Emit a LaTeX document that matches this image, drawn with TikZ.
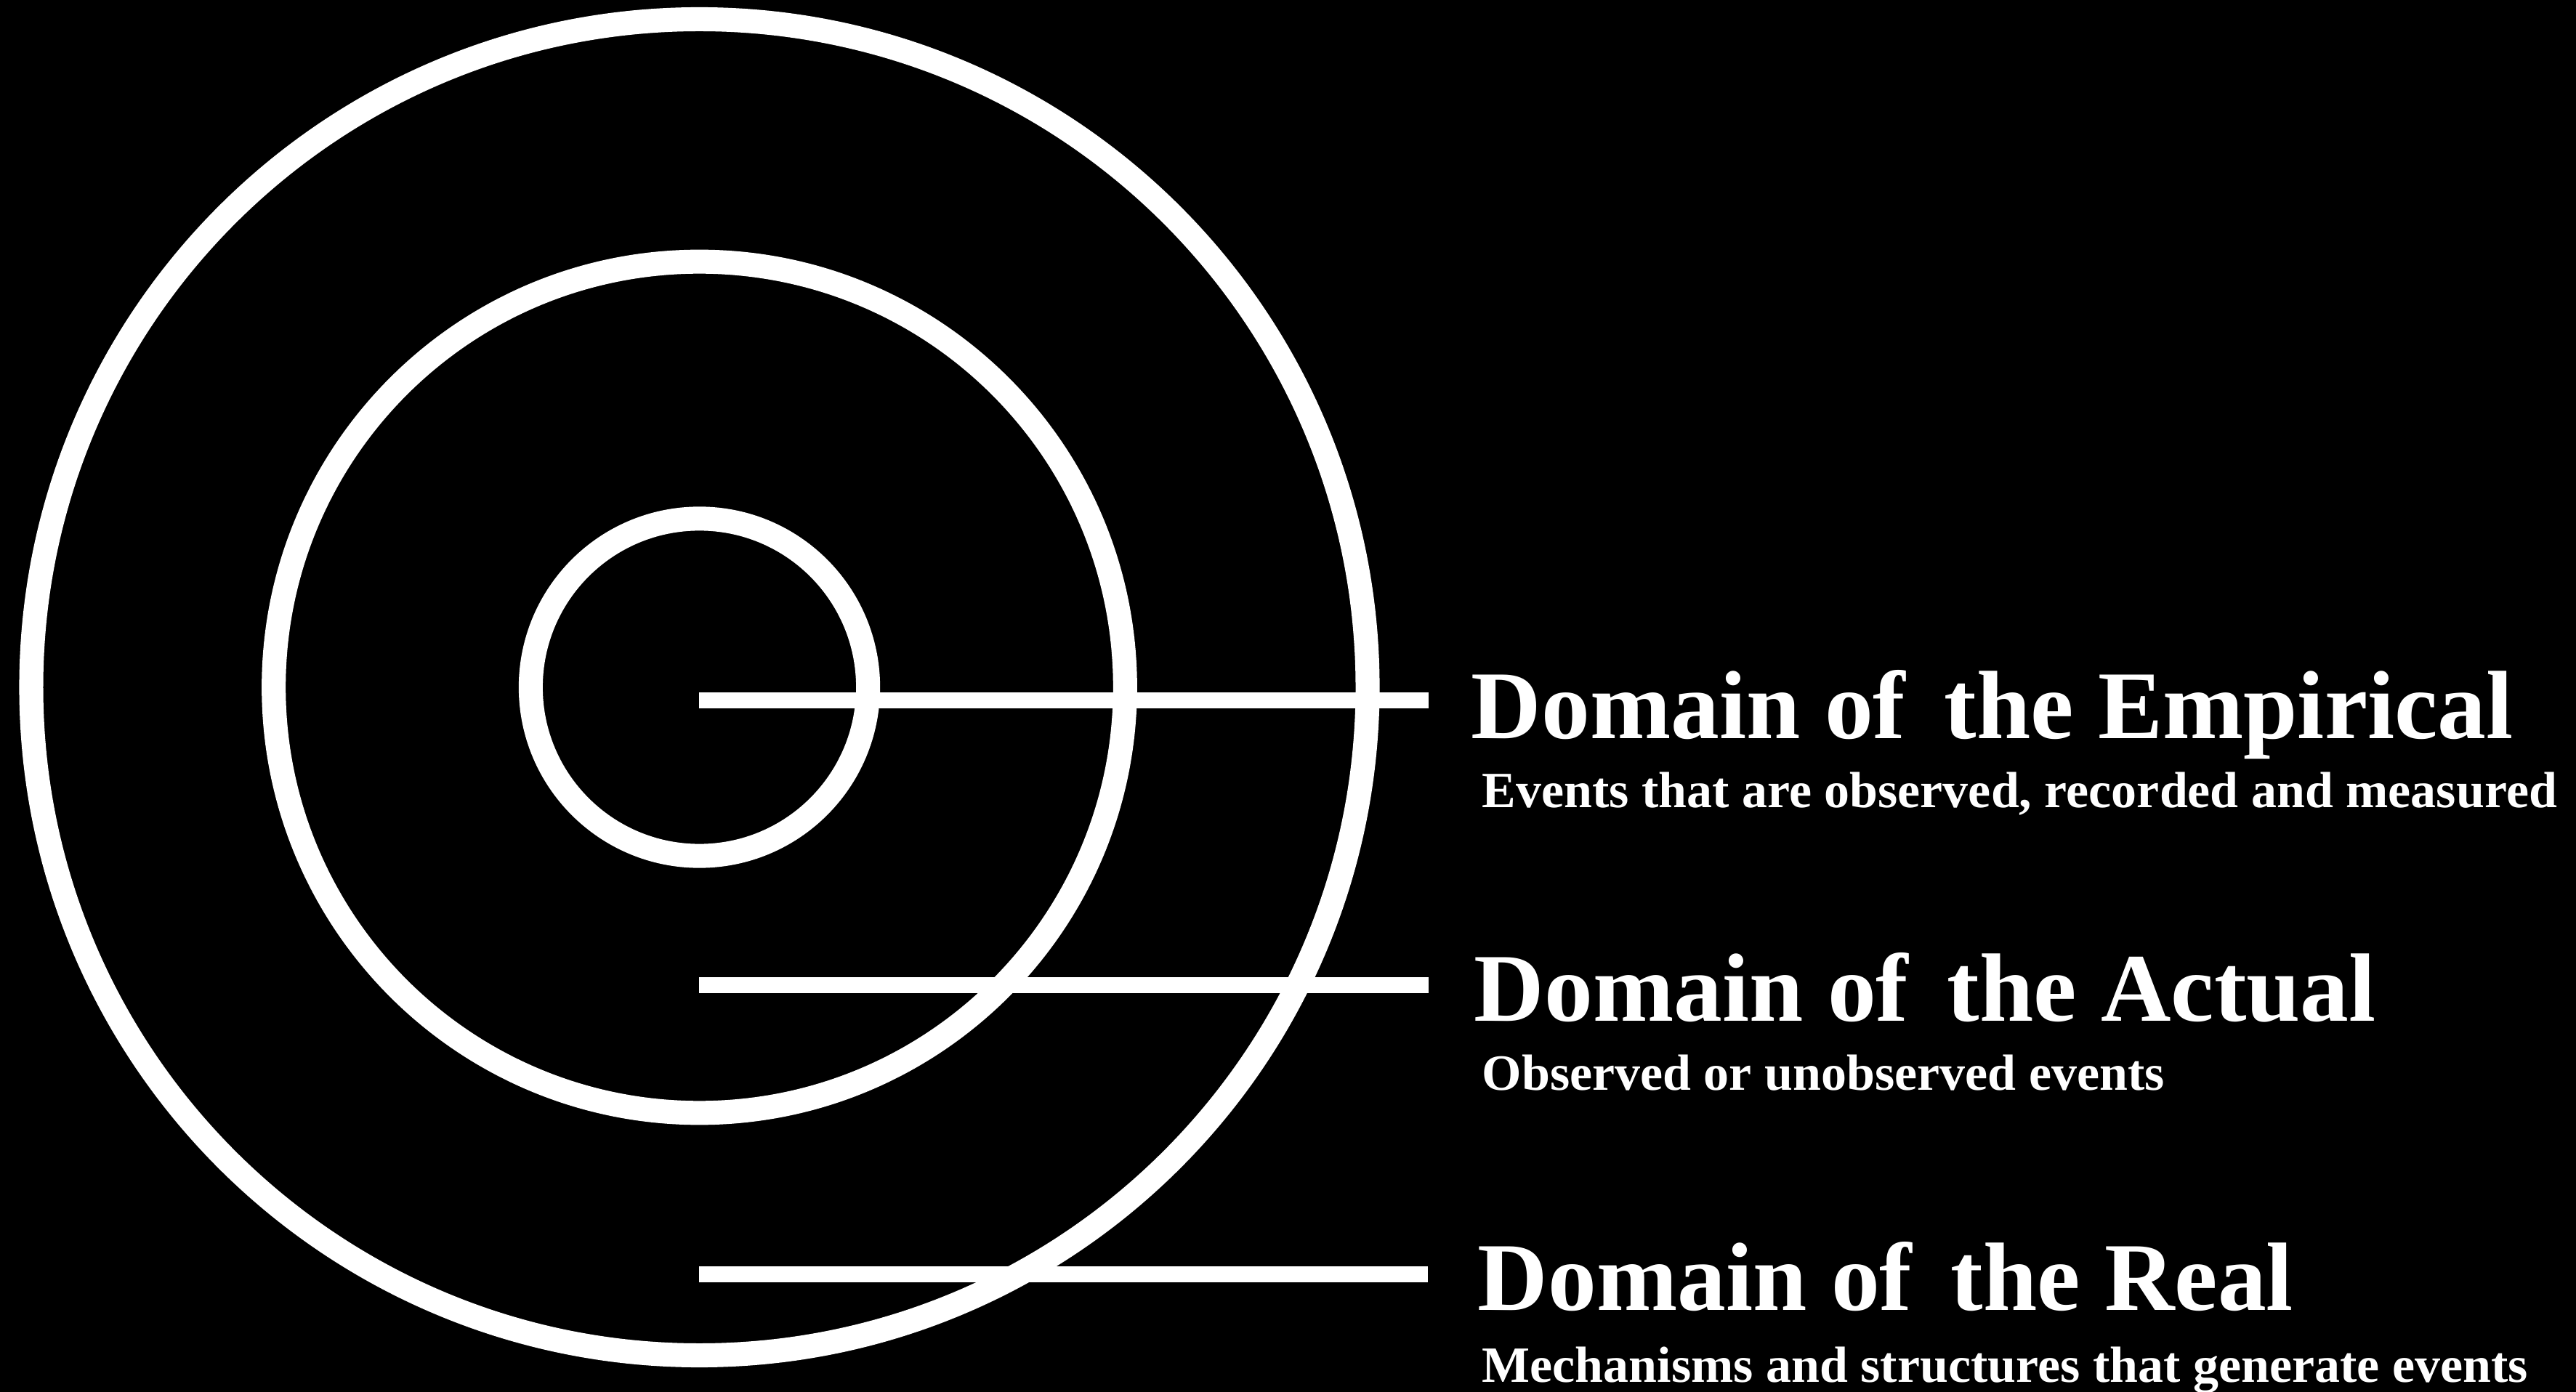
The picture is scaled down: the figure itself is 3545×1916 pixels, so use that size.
\documentclass[tikz,border=0pt]{standalone}
\usepackage{fontspec}
\setmainfont{Liberation Serif}
\begin{document}
\begin{tikzpicture}[x=0.01cm,y=-0.01cm,
    ring/.style={draw=white,line width=9.4pt},
    bar/.style={draw=white,line width=6.5pt},
    domtitle/.style={text=white,anchor=base west,inner sep=0pt,
      font=\fontsize{38}{40}\selectfont\bfseries},
    domnote/.style={text=white,anchor=base west,inner sep=0pt,
      font=\fontsize{19.9}{22}\selectfont\bfseries}]
        \fill[black] (0,0) rectangle (3545,1916);
        \useasboundingbox (0,0) rectangle (3545,1916);

        \coordinate (c) at (962.5,946);
        \draw[ring] (c) circle (9.19cm);
        \draw[ring] (c) circle (5.855cm);
        \draw[ring] (c) circle (2.32cm);

        \coordinate (emp0) at (962,964);
        \coordinate (emp1) at (1966,964);
        \coordinate (act0) at (962,1356);
        \coordinate (act1) at (1966,1356);
        \coordinate (real0) at (962,1754);
        \coordinate (real1) at (1965,1754);

        \draw[bar] (emp0) -- (emp1);
        \draw[bar] (act0) -- (act1);
        \draw[bar] (real0) -- (real1);

        \node[domtitle] (emp) at (2024,1017) {Domain of\hspace{0.15em} the Empirical};
        \node[domnote] (empnote) at (2039,1112) {Events that are observed, recorded and measured};
        \node[domtitle] (act) at (2028,1405) {Domain of\hspace{0.15em} the Actual};
        \node[domnote] (actnote) at (2039,1500) {Observed or unobserved events};
        \node[domtitle] (real) at (2033,1803) {Domain of\hspace{0.15em} the Real};
        \node[domnote] (realnote) at (2039,1902) {Mechanisms and structures that generate events};
    \end{tikzpicture}
\end{document}
